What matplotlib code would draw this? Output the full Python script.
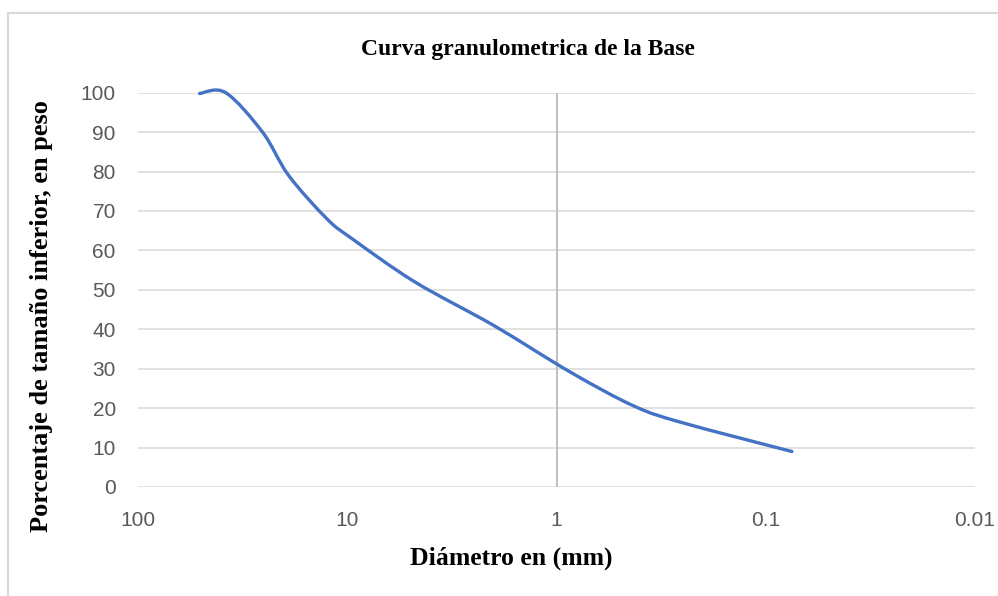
import numpy as np
import matplotlib.pyplot as plt
from matplotlib.path import Path
from matplotlib.patches import PathPatch
from matplotlib.lines import Line2D

# sieve openings (mm) and percent passing
diametro = [50.8, 38.1, 25.4, 19.05, 12.5, 9.5, 4.75, 2.0, 0.85, 0.425, 0.25, 0.075]
pasa = [99.8, 100, 90, 79, 68, 63, 52, 41, 29, 20.5, 16.3, 9]

x_ticks = [100, 10, 1, 0.1, 0.01]
x_labels = ['100', '10', '1', '0.1', '0.01']
y_ticks = list(range(0, 101, 10))

W, H = 998, 596
fig = plt.figure(figsize=(W / 100, H / 100), dpi=100)
ax = fig.add_axes([138 / W, 1 - 487 / H, (975 - 138) / W, (487 - 92.7) / H])


def smooth_path(xs, ys):
    # Excel-like smoothed line: cubic bezier through the points,
    # computed in (log10 x, y) space
    lx = np.log10(xs)
    y = np.asarray(ys, dtype=float)
    n = len(lx)
    verts = [(lx[0], y[0])]
    codes = [Path.MOVETO]
    for i in range(n - 1):
        p0 = (lx[max(i - 1, 0)], y[max(i - 1, 0)])
        p1 = (lx[i], y[i])
        p2 = (lx[i + 1], y[i + 1])
        p3 = (lx[min(i + 2, n - 1)], y[min(i + 2, n - 1)])
        c1 = (p1[0] + (p2[0] - p0[0]) / 6, p1[1] + (p2[1] - p0[1]) / 6)
        c2 = (p2[0] - (p3[0] - p1[0]) / 6, p2[1] - (p3[1] - p1[1]) / 6)
        verts += [c1, c2, p2]
        codes += [Path.CURVE4] * 3
    verts = [(10 ** vx, vy) for vx, vy in verts]
    return Path(verts, codes)


ax.set_xscale('log')
ax.set_xlim(100, 0.01)
ax.set_ylim(0, 100)

ax.yaxis.grid(True, color='#d9d9d9', lw=1.1)
ax.set_axisbelow(True)
ax.axvline(1, color='#bfbfbf', lw=1.4, zorder=1)

patch = PathPatch(smooth_path(diametro, pasa), fill=False, edgecolor='#4472c4',
                  lw=2.4, capstyle='round', joinstyle='round', zorder=3, clip_on=False)
ax.add_patch(patch)

for s in ax.spines.values():
    s.set_visible(False)

ax.set_xticks(x_ticks)
ax.set_xticklabels(x_labels)
ax.xaxis.set_minor_locator(plt.NullLocator())
ax.set_yticks(y_ticks)
ax.tick_params(length=0, labelsize=15, labelcolor='#595959')
ax.tick_params(axis='y', pad=16)
ax.tick_params(axis='x', pad=17)
for lab in ax.get_xticklabels() + ax.get_yticklabels():
    lab.set_family('Liberation Sans')

serif = dict(family='Liberation Serif', weight='bold', color='black')
fig.text(528 / W, 1 - 50 / H, 'Curva granulometrica de la Base', ha='center', va='center',
         fontsize=17, **serif)
fig.text(511 / W, 1 - 558 / H, 'Diámetro en (mm)', ha='center', va='center',
         fontsize=18.5, **serif)
fig.text(42 / W, 1 - 316 / H, 'Porcentaje de tamaño inferior, en peso', ha='center',
         va='center', rotation=90, fontsize=19, **serif)

# chart area border (only left and top edges visible)
fig.add_artist(Line2D([8 / W, 8 / W], [0, 1 - 13 / H], color='#d9d9d9', lw=1.5))
fig.add_artist(Line2D([8 / W, 1], [1 - 13 / H, 1 - 13 / H], color='#d9d9d9', lw=1.5))

fig.savefig('out.png', dpi=100)
